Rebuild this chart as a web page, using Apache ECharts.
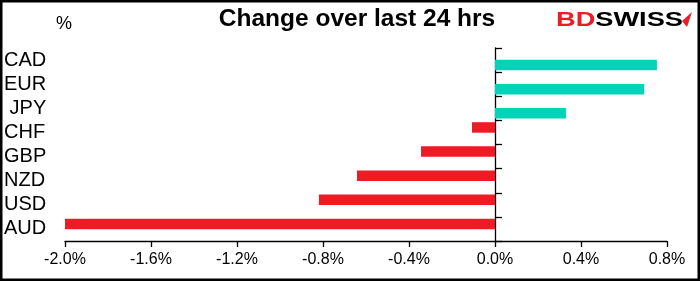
<!DOCTYPE html>
<html>
<head>
<meta charset="utf-8">
<script src="https://cdn.jsdelivr.net/npm/echarts@6/dist/echarts.min.js"></script>
<style>
html,body{margin:0;padding:0;background:#fff;}
#chart{width:700px;height:281px;}
</style>
</head>
<body>
<div id="chart"></div>
<script>
var categories = ['CAD', 'EUR', ' JPY', 'CHF', 'GBP', 'NZD', 'USD', 'AUD'];
var positiveValues = [0.753, 0.694, 0.330, null, null, null, null, null];
var negativeValues = [null, null, null, -0.107, -0.344, -0.642, -0.819, -2.0];
var xMin = -2.0, xMax = 0.8, xStep = 0.4;
var titleText = 'Change over last 24 hrs';
var unitText = '%';

var FONT = '"Liberation Sans", Arial, sans-serif';
var chart = echarts.init(document.getElementById('chart'), null, {renderer: 'canvas'});
chart.setOption({
  animation: false,
  backgroundColor: '#ffffff',
  grid: {left: 65, right: 33, top: 48, bottom: 40, containLabel: false},
  xAxis: {
    type: 'value', min: xMin, max: xMax, interval: xStep,
    axisLine: {show: true, lineStyle: {color: '#000', width: 1.3}},
    axisTick: {show: true, length: 6, lineStyle: {color: '#000', width: 1.3}},
    splitLine: {show: false},
    axisLabel: {
      color: '#000', fontFamily: FONT, fontSize: 16, margin: 11,
      formatter: function (v) { return v.toFixed(1) + '%'; }
    }
  },
  yAxis: [{
    type: 'category', data: categories, inverse: true,
    axisLine: {show: true, onZero: true, lineStyle: {color: '#000', width: 1.3}},
    axisTick: {show: true, inside: true, length: 7, interval: 0, lineStyle: {color: '#000', width: 1.3}},
    axisLabel: {show: false}
  }, {
    type: 'category', data: categories, inverse: true, position: 'left',
    axisLine: {show: false, onZero: false}, axisTick: {show: false},
    axisLabel: {show: true, interval: 0, color: '#000', fontFamily: FONT, fontSize: 20, align: 'left', margin: 61}
  }],
  series: [{
    type: 'bar', name: 'negative', data: negativeValues, yAxisIndex: 0,
    barWidth: 10.5, barGap: '-5%',
    itemStyle: {color: '#ED1C24'}
  }, {
    type: 'bar', name: 'positive', data: positiveValues, yAxisIndex: 0,
    barWidth: 10.5, barGap: '-5%',
    itemStyle: {color: '#03D4B8'}
  }],
  graphic: [
    {type: 'text', x: 357, y: 19, style: {text: titleText, fill: '#000', font: 'bold 24.5px ' + FONT, textAlign: 'center', textVerticalAlign: 'middle'}},
    {type: 'text', x: 56, y: 24, style: {text: unitText, fill: '#000', font: '18px ' + FONT, textAlign: 'left', textVerticalAlign: 'middle'}},
    {type: 'group', x: 556, y: 20, scaleX: 1.36, children: [
      {type: 'text', style: {text: 'BD', x: 0, y: 0, fill: '#ED1C24', font: 'bold 20px ' + FONT, textAlign: 'left', textVerticalAlign: 'middle'}},
      {type: 'text', style: {text: 'SWISS', x: 28.9, y: 0, fill: '#000', font: 'bold 20px ' + FONT, textAlign: 'left', textVerticalAlign: 'middle'}}
    ]},
    {type: 'polygon', shape: {points: [[682, 21], [692, 12], [687, 27]]}, style: {fill: '#ED1C24'}},
    {type: 'rect', shape: {x: 1.25, y: 1.25, width: 697.5, height: 278.5}, style: {fill: 'none', stroke: '#000', lineWidth: 2.5}, silent: true}
  ]
});
</script>
</body>
</html>
